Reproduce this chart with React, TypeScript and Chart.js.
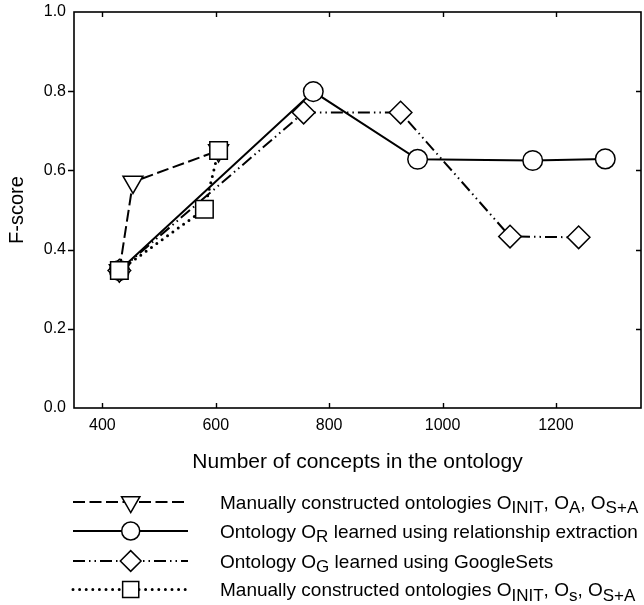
import React, { useEffect, useRef } from "react";
import { Chart, registerables } from "chart.js";

Chart.register(...registerables);

const FONT = "'Liberation Sans', Arial, Helvetica, sans-serif";

// Axis ticks
const xTickValues = [400, 600, 800, 1000, 1200];
const yTickValues = [0, 0.2, 0.4, 0.6, 0.8, 1.0];

// Series: manually constructed ontologies O_INIT, O_A, O_S+A (triangles, dashed)
const triX = [430, 454, 605];
const triY = [0.347, 0.571, 0.65];
// Ontology O_R (circles, solid)
const circX = [430, 772, 956, 1159, 1287];
const circY = [0.347, 0.799, 0.628, 0.625, 0.629];
// Ontology O_G (diamonds, dash-dot-dot)
const diaX = [430, 755, 926, 1119, 1240];
const diaY = [0.347, 0.746, 0.746, 0.433, 0.431];
// Manually constructed ontologies O_INIT, O_s, O_S+A (squares, dotted)
const sqX = [430, 580, 605];
const sqY = [0.347, 0.502, 0.65];

type Seg = [string, boolean];
const legendTexts: Seg[][] = [
  [["Manually constructed ontologies O", false], ["INIT", true], [", O", false], ["A", true], [", O", false], ["S+A", true]],
  [["Ontology O", false], ["R", true], [" learned using relationship extraction", false]],
  [["Ontology O", false], ["G", true], [" learned using GoogleSets", false]],
  [["Manually constructed ontologies O", false], ["INIT", true], [", O", false], ["s", true], [", O", false], ["S+A", true]],
];

const styles = [
  { marker: "triangleDown", radius: 11.5, dash: [12, 4.5], width: 2, cap: "butt" as CanvasLineCap, order: 3 },
  { marker: "circle", radius: 9.8, dash: [] as number[], width: 2, cap: "butt" as CanvasLineCap, order: 2 },
  { marker: "rectRot", radius: 11.3, dash: [12, 4, 1.5, 4, 1.5, 4], width: 2, cap: "butt" as CanvasLineCap, order: 1 },
  { marker: "rect", radius: 12.4, dash: [0, 6.6], width: 3, cap: "round" as CanvasLineCap, order: 0 },
];

const seriesX = [triX, circX, diaX, sqX];
const seriesY = [triY, circY, diaY, sqY];

function drawMarker(ctx: CanvasRenderingContext2D, kind: string, x: number, y: number, r: number) {
  ctx.save();
  ctx.setLineDash([]);
  ctx.lineWidth = 1.5;
  ctx.strokeStyle = "#000";
  ctx.fillStyle = "#fff";
  ctx.beginPath();
  if (kind === "circle") {
    ctx.arc(x, y, r, 0, Math.PI * 2);
  } else if (kind === "rect") {
    const s = r * Math.SQRT1_2;
    ctx.rect(x - s, y - s, 2 * s, 2 * s);
  } else if (kind === "rectRot") {
    ctx.moveTo(x - r, y);
    ctx.lineTo(x, y - r);
    ctx.lineTo(x + r, y);
    ctx.lineTo(x, y + r);
    ctx.closePath();
  } else {
    const h = r * Math.sin(Math.PI / 3);
    ctx.moveTo(x, y + r);
    ctx.lineTo(x + h, y - r / 2);
    ctx.lineTo(x - h, y - r / 2);
    ctx.closePath();
  }
  ctx.fill();
  ctx.stroke();
  ctx.restore();
}

const framePlugin = {
  id: "frameTicks",
  afterDraw(chart: any) {
    const ctx: CanvasRenderingContext2D = chart.ctx;
    const { left, top, right, bottom } = chart.chartArea;
    const xs = chart.scales.x;
    const ys = chart.scales.y;
    ctx.save();
    ctx.strokeStyle = "#000";
    ctx.lineWidth = 1.6;
    ctx.setLineDash([]);
    ctx.strokeRect(left, top, right - left, bottom - top);
    ctx.lineWidth = 1.4;
    ctx.beginPath();
    xTickValues.forEach((v) => {
      const px = Math.round(xs.getPixelForValue(v)) + 0.5;
      ctx.moveTo(px, bottom);
      ctx.lineTo(px, bottom - 5);
      ctx.moveTo(px, top);
      ctx.lineTo(px, top + 5);
    });
    yTickValues.forEach((v) => {
      if (v <= 0 || v >= 1) return;
      const py = Math.round(ys.getPixelForValue(v)) + 0.5;
      ctx.moveTo(left, py);
      ctx.lineTo(left - 6, py);
      ctx.moveTo(right, py);
      ctx.lineTo(right - 5, py);
    });
    ctx.stroke();
    ctx.restore();
  },
};

const legendPlugin = {
  id: "customLegend",
  afterDraw(chart: any) {
    const ctx: CanvasRenderingContext2D = chart.ctx;
    const rows = [502, 531, 561, 589.5];
    const lineStart = 73;
    const lineEnd = 188;
    const markerX = 130.7;
    const textX = 220;
    ctx.save();
    styles.forEach((st, i) => {
      const y = rows[i];
      ctx.strokeStyle = "#000";
      ctx.lineWidth = st.width;
      ctx.lineCap = st.cap;
      ctx.setLineDash(st.dash);
      ctx.beginPath();
      ctx.moveTo(lineStart, y);
      ctx.lineTo(lineEnd, y);
      ctx.stroke();
      drawMarker(ctx, st.marker, markerX, y, st.radius * 0.92);
      let x = textX;
      ctx.fillStyle = "#000";
      ctx.textBaseline = "alphabetic";
      ctx.textAlign = "left";
      legendTexts[i].forEach(([t, sub]) => {
        ctx.font = sub ? `17px ${FONT}` : `19px ${FONT}`;
        ctx.fillText(t, x, sub ? y + 11 : y + 6.5);
        x += ctx.measureText(t).width;
      });
    });
    ctx.restore();
  },
};

export default function App() {
  const ref = useRef<HTMLCanvasElement | null>(null);

  useEffect(() => {
    if (!ref.current) return;
    const datasets = styles.map((st, i) => ({
      label: "s" + i,
      data: seriesX[i].map((x, j) => ({ x, y: seriesY[i][j] })),
      borderColor: "#000",
      borderWidth: st.width,
      borderDash: st.dash,
      borderCapStyle: st.cap,
      backgroundColor: "#fff",
      pointStyle: st.marker === "triangleDown" ? "triangle" : st.marker,
      pointRotation: st.marker === "triangleDown" ? 180 : 0,
      pointRadius: st.radius,
      pointBorderWidth: 1.5,
      pointBorderColor: "#000",
      pointBackgroundColor: "#fff",
      tension: 0,
      fill: false,
      order: st.order,
    }));
    const tickFont = { family: FONT, size: 16 };
    const chart = new Chart(ref.current, {
      type: "line",
      data: { datasets: datasets as any },
      options: {
        animation: false,
        responsive: true,
        maintainAspectRatio: false,
        layout: { autoPadding: false, padding: { top: 12, right: 3, left: 0, bottom: 130 } },
        plugins: { legend: { display: false }, tooltip: { enabled: false } },
        scales: {
          x: {
            type: "linear",
            min: 350,
            max: 1350,
            grid: { display: false, drawTicks: false },
            border: { display: false },
            afterBuildTicks: (s: any) => {
              s.ticks = xTickValues.map((v) => ({ value: v }));
            },
            afterFit: (s: any) => {
              s.height = 67;
              s.paddingLeft = 0;
              s.paddingRight = 0;
            },
            ticks: {
              padding: 8,
              color: "#000",
              font: tickFont,
              maxRotation: 0,
              autoSkip: false,
              callback: (v: any) => String(v),
            },
            title: {
              display: true,
              text: "Number of concepts in the ontology",
              color: "#000",
              font: { family: FONT, size: 21 },
              padding: 0,
            },
          },
          y: {
            type: "linear",
            min: 0,
            max: 1,
            grid: { display: false, drawTicks: false },
            border: { display: false },
            afterBuildTicks: (s: any) => {
              s.ticks = yTickValues.map((v) => ({ value: v }));
            },
            afterFit: (s: any) => {
              s.width = 74;
              s.paddingTop = 0;
              s.paddingBottom = 0;
            },
            ticks: {
              padding: 8,
              color: "#000",
              font: tickFont,
              callback: (v: any) => Number(v).toFixed(1),
            },
            title: {
              display: true,
              text: "F-score",
              color: "#000",
              font: { family: FONT, size: 20 },
              padding: { top: 5.5, bottom: 0 },
            },
          },
        },
      },
      plugins: [framePlugin, legendPlugin],
    });
    return () => chart.destroy();
  }, []);

  return (
    <div style={{ position: "absolute", left: 0, top: 0, width: 644, height: 605, background: "#fff" }}>
      <canvas ref={ref} />
    </div>
  );
}
